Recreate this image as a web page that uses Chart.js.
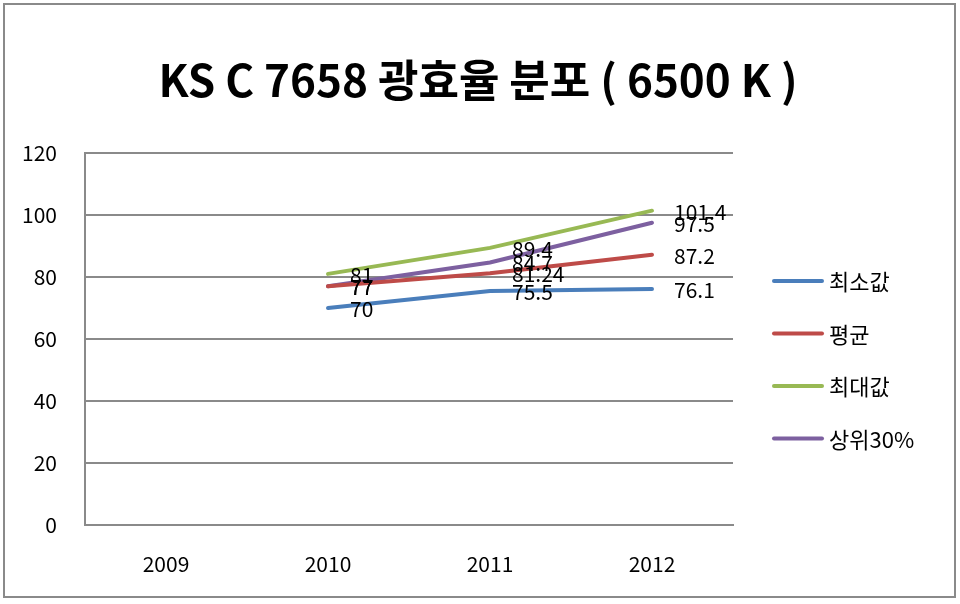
<!DOCTYPE html>
<html>
<head>
<meta charset="utf-8">
<script src="https://cdn.jsdelivr.net/npm/chart.js@4"></script>
<style>
  html, body { margin: 0; padding: 0; background: #fff; }
  #wrap { width: 960px; height: 604px; }
</style>
</head>
<body>
<div id="wrap"><canvas id="myChart" width="960" height="604"></canvas></div>
<script>
var years = ["2009", "2010", "2011", "2012"];
var minVals = [null, 70, 75.5, 76.1];
var avgVals = [null, 77, 81.24, 87.2];
var maxVals = [null, 81, 89.4, 101.4];
var top30Vals = [null, 77, 84.7, 97.5];
var yTicks = [0, 20, 40, 60, 80, 100, 120];

var seriesNames = ["최소값", "평균", "최대값", "상위30%"];
var seriesColors = ["#4A7EBB", "#BE4B48", "#98B954", "#7D60A0"];
var chartTitle = "KS C 7658 광효율 분포 ( 6500 K )";

var FONT = "'Noto Sans CJK KR', 'Malgun Gothic', sans-serif";

// numbers written to the right of each point
const pointLabels = {
    id: 'pointLabels',
    afterDatasetsDraw(chart) {
        const ctx = chart.ctx;
        ctx.save();
        ctx.font = "21px " + FONT;
        ctx.fillStyle = "#000";
        ctx.textAlign = "left";
        ctx.textBaseline = "middle";
        chart.data.datasets.forEach((ds, i) => {
            chart.getDatasetMeta(i).data.forEach((pt, j) => {
                if (ds.data[j] == null) return;
                ctx.fillText(String(ds.data[j]), pt.x + 22, pt.y + 1);
            });
        });
        ctx.restore();
    }
};

// legend on the right, a short thick line per series
const sideLegend = {
    id: 'sideLegend',
    afterDraw(chart) {
        const ctx = chart.ctx;
        ctx.save();
        ctx.font = "22px " + FONT;
        ctx.textBaseline = "middle";
        chart.data.datasets.forEach((ds, i) => {
            const y = 281 + i * 52.5;
            ctx.strokeStyle = ds.borderColor;
            ctx.lineWidth = 4;
            ctx.lineCap = "round";
            ctx.beginPath();
            ctx.moveTo(774, y);
            ctx.lineTo(822, y);
            ctx.stroke();
            ctx.fillStyle = "#000";
            ctx.fillText(ds.label, 829, y + 1);
        });
        ctx.restore();
    }
};

// outer frame and the centred title
const frame = {
    id: 'frame',
    beforeDraw(chart) {
        const ctx = chart.ctx;
        ctx.save();
        ctx.fillStyle = "#fff";
        ctx.fillRect(0, 0, chart.width, chart.height);
        ctx.strokeStyle = "#8a8a8a";
        ctx.lineWidth = 2;
        ctx.strokeRect(4, 4, 951, 593);
        ctx.font = "bold 44px " + FONT;
        ctx.fillStyle = "#000";
        ctx.textAlign = "center";
        ctx.textBaseline = "middle";
        ctx.fillText(chartTitle, 478, 80);
        ctx.restore();
    }
};

const allSeries = [minVals, avgVals, maxVals, top30Vals];

const config = {
    type: 'line',
    data: {
        labels: years,
        datasets: allSeries.map((vals, i) => ({
            label: seriesNames[i],
            data: vals,
            borderColor: seriesColors[i],
            backgroundColor: seriesColors[i],
            borderWidth: 4,
            pointRadius: 0,
            tension: 0,
            borderCapStyle: 'round'
        }))
    },
    options: {
        responsive: false,
        animation: false,
        layout: {
            padding: { left: 0, right: 227, top: 153, bottom: 0 }
        },
        plugins: {
            legend: { display: false },
            tooltip: { enabled: false },
            title: { display: false }
        },
        scales: {
            x: {
                offset: true,
                grid: { display: false, drawTicks: false },
                border: { color: "#8a8a8a", width: 2 },
                ticks: {
                    color: "#000",
                    padding: 26,
                    font: { size: 21, family: FONT }
                },
                afterFit(s) { s.height = 79; }
            },
            y: {
                min: 0,
                max: 120,
                afterBuildTicks(s) { s.ticks = yTicks.map(v => ({ value: v })); },
                grid: { color: "#8a8a8a", lineWidth: 2, drawTicks: false },
                border: { color: "#8a8a8a", width: 2 },
                ticks: {
                    color: "#000",
                    padding: 28,
                    font: { size: 21, family: FONT }
                },
                afterFit(s) { s.width = 85; }
            }
        }
    },
    plugins: [frame, pointLabels, sideLegend]
};

new Chart(document.getElementById("myChart"), config);
</script>
</body>
</html>
